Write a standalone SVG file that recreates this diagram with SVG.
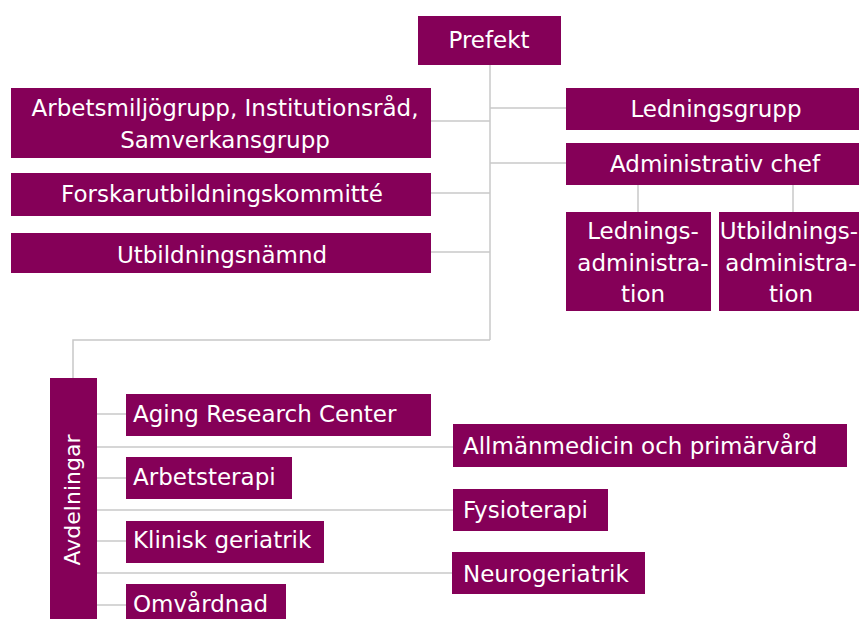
<svg xmlns="http://www.w3.org/2000/svg" width="859" height="619" viewBox="0 0 859 619">
<style>
.box{fill:#850058;}
.t{fill:#ffffff;font-family:"DejaVu Sans","Noto Sans",sans-serif;font-size:23px;}
.c{text-anchor:middle;}
.ln{stroke:#c8c8c8;stroke-width:1.5;fill:none;}
</style>
<rect width="859" height="619" fill="#ffffff"/>
<g id="connectors">
<path class="ln" d="M490 64 V340"/>
<path class="ln" d="M431 121 H490"/>
<path class="ln" d="M431 193 H490"/>
<path class="ln" d="M431 252 H490"/>
<path class="ln" d="M490 108 H566"/>
<path class="ln" d="M490 163 H566"/>
<path class="ln" d="M638 185 V212"/>
<path class="ln" d="M793 185 V212"/>
<path class="ln" d="M490 340 H73 V378"/>
<path class="ln" d="M97 414 H126"/>
<path class="ln" d="M97 447 H453"/>
<path class="ln" d="M97 478 H126"/>
<path class="ln" d="M97 510 H453"/>
<path class="ln" d="M97 541 H126"/>
<path class="ln" d="M97 573 H453"/>
<path class="ln" d="M97 605 H126"/>
</g>
<g id="prefekt"><rect class="box" x="418" y="16" width="143" height="49"/><text class="t c" x="489" y="48">Prefekt</text></g>
<g id="arbetsmiljo"><rect class="box" x="11" y="88" width="420" height="70"/><text class="t c" x="225" y="116">Arbetsmiljögrupp, Institutionsråd,</text><text class="t c" x="225" y="148">Samverkansgrupp</text></g>
<g id="forskar"><rect class="box" x="11" y="173" width="420" height="43"/><text class="t c" x="222" y="202">Forskarutbildningskommitté</text></g>
<g id="utbildningsnamnd"><rect class="box" x="11" y="233" width="420" height="40"/><text class="t c" x="222" y="263">Utbildningsnämnd</text></g>
<g id="ledningsgrupp"><rect class="box" x="566" y="88" width="293" height="42"/><text class="t c" x="716" y="117">Ledningsgrupp</text></g>
<g id="adminchef"><rect class="box" x="566" y="143" width="293" height="42"/><text class="t c" x="715" y="172">Administrativ chef</text></g>
<g id="ledningsadm"><rect class="box" x="566" y="212" width="145" height="99"/><text class="t c" x="643" y="239">Lednings-</text><text class="t c" x="643" y="271">administra-</text><text class="t c" x="643" y="302">tion</text></g>
<g id="utbildningsadm"><rect class="box" x="719" y="212" width="140" height="99"/><text class="t c" x="789" y="239">Utbildnings-</text><text class="t c" x="791" y="271">administra-</text><text class="t c" x="791" y="302">tion</text></g>
<g id="avdelningar"><rect class="box" x="50" y="378" width="47" height="241"/><text class="t c" style="font-size:22px" transform="translate(80 500) rotate(-90)" x="0" y="0">Avdelningar</text></g>
<g id="aging"><rect class="box" x="126" y="394" width="305" height="42"/><text class="t" x="133" y="422">Aging Research Center</text></g>
<g id="arbetsterapi"><rect class="box" x="126" y="457" width="166" height="42"/><text class="t" x="133" y="485">Arbetsterapi</text></g>
<g id="klinisk"><rect class="box" x="126" y="521" width="198" height="42"/><text class="t" x="133" y="548">Klinisk geriatrik</text></g>
<g id="omvardnad"><rect class="box" x="126" y="584" width="160" height="35"/><text class="t" x="133" y="612">Omvårdnad</text></g>
<g id="allman"><rect class="box" x="453" y="424" width="394" height="43"/><text class="t" x="463" y="454">Allmänmedicin och primärvård</text></g>
<g id="fysio"><rect class="box" x="453" y="489" width="155" height="42"/><text class="t" x="463" y="518">Fysioterapi</text></g>
<g id="neuro"><rect class="box" x="452" y="552" width="193" height="42"/><text class="t" x="463" y="582">Neurogeriatrik</text></g>
</svg>
